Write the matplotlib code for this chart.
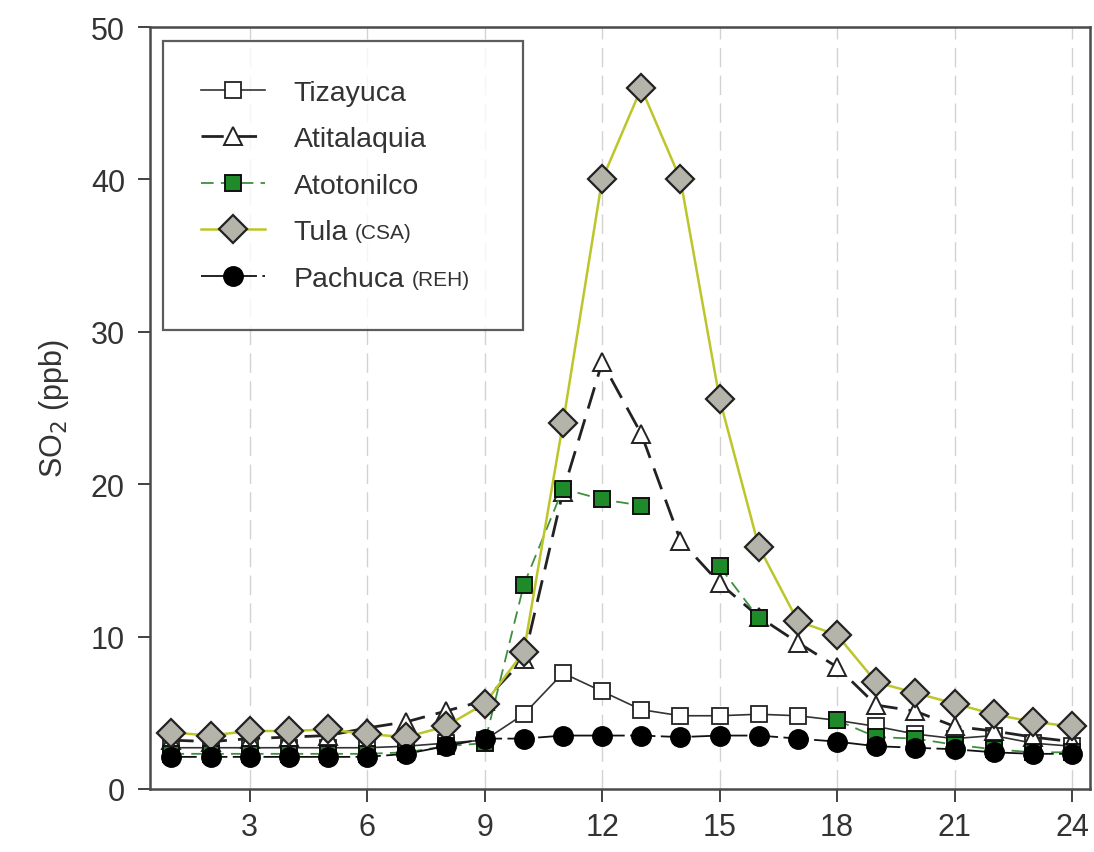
import numpy as np
import matplotlib
matplotlib.use("Agg")
import matplotlib.pyplot as plt

plt.rcParams['font.family'] = ['Liberation Sans', 'DejaVu Sans']

hours = list(range(1, 25))
nan = np.nan
tizayuca = [2.7, 2.7, 2.7, 2.7, 2.7, 2.7, 2.8, 3.0, 3.2, 4.9, 7.6, 6.4,
            5.2, 4.8, 4.8, 4.9, 4.8, 4.5, 4.1, 3.6, 3.3, 3.5, 3.0, 2.8]
atitalaquia = [3.2, 3.1, 3.3, 3.4, 3.5, 4.0, 4.4, 5.1, 5.8, 8.5, 19.5, 28.0,
               23.3, 16.3, 13.5, 11.3, 9.6, 8.0, 5.5, 5.1, 4.1, 3.8, 3.4, 3.1]
atotonilco = [2.3, 2.3, 2.3, 2.3, 2.3, 2.3, 2.4, 2.8, 3.0, 13.4, 19.7, 19.0,
              18.6, nan, 14.6, 11.2, nan, 4.5, 3.4, 3.3, 2.9, 2.6, 2.4, 2.4]
tula = [3.7, 3.5, 3.8, 3.8, 3.9, 3.6, 3.4, 4.1, 5.6, 9.0, 24.0, 40.0,
        46.0, 40.0, 25.6, 15.9, 11.0, 10.1, 7.0, 6.3, 5.6, 4.9, 4.4, 4.1]
pachuca = [2.1, 2.1, 2.1, 2.1, 2.1, 2.1, 2.3, 2.8, 3.3, 3.3, 3.5, 3.5,
           3.5, 3.4, 3.5, 3.5, 3.3, 3.1, 2.8, 2.7, 2.6, 2.4, 2.3, 2.3]

labels = ["Tizayuca", "Atitalaquia", "Atotonilco", "Tula", "Pachuca"]
label_suffix = {"Tula": "(CSA)", "Pachuca": "(REH)"}
xticks = [3, 6, 9, 12, 15, 18, 21, 24]
yticks = [0, 10, 20, 30, 40, 50]

fig = plt.figure(figsize=(10.94, 8.53), dpi=100)
ax = fig.add_axes([0.137, 0.074, 0.859, 0.893])

for xv in xticks:
    ax.axvline(xv, color='#d2d2d2', lw=1.0, ls=(0, (14, 6)), zorder=0)

ax.plot(hours, tizayuca, color='#333333', lw=1.2, marker='s', ms=11,
        mfc='white', mec='#222222', mew=1.3, label=labels[0], zorder=2)
ax.plot(hours, atitalaquia, color='#222222', lw=2.0, ls=(0, (8, 4)),
        marker='^', ms=13, mfc='white', mec='#222222', mew=1.4,
        label=labels[1], zorder=3)
ax.plot(hours, atotonilco, color='#3f8f3f', lw=1.3, ls=(0, (7, 4)),
        marker='s', ms=11.5, mfc='#1f8a2a', mec='#111111', mew=1.4,
        label=labels[2], zorder=4)
ax.plot(hours, tula, color='#bcc62a', lw=1.8, marker='D', ms=14,
        mfc='#b4b4aa', mec='#222222', mew=1.6, label=labels[3], zorder=5)
ax.plot(hours, pachuca, color='#111111', lw=1.3, ls=(0, (14, 3)),
        marker='o', ms=14, mfc='black', mec='black', label=labels[4],
        zorder=6)

ax.set_xlim(0.45, 24.45)
ax.set_ylim(0, 50)
ax.set_xticks(xticks)
ax.set_yticks(yticks)
ax.tick_params(axis='x', direction='out', length=9, width=1.3,
               labelsize=22, colors='#333333', pad=8)
ax.tick_params(axis='y', direction='out', length=9, width=1.3,
               labelsize=22, colors='#333333', pad=9)
for s in ax.spines.values():
    s.set_color('#4a4a4a')
    s.set_linewidth(1.8)
ax.set_ylabel("SO$_2$ (ppb)", fontsize=22, color='#333333', labelpad=14)

leg = ax.legend(loc='upper left', bbox_to_anchor=(0.0138, 0.5, 0.383, 0.4816),
                mode='expand', fontsize=20.5, frameon=True, fancybox=False,
                edgecolor='#333333', handlelength=2.25, borderpad=1.35,
                labelspacing=0.72, handletextpad=1.0, borderaxespad=0)
leg.get_frame().set_linewidth(1.6)
for t in leg.get_texts():
    t.set_color('#333333')

fig.canvas.draw()
renderer = fig.canvas.get_renderer()
for t in leg.get_texts():
    lab = t.get_text()
    if lab in label_suffix:
        bb = t.get_window_extent(renderer)
        x = (bb.x1 + 7) / fig.bbox.width
        y = (bb.y0 + 7) / fig.bbox.height
        fig.text(x, y, label_suffix[lab], fontsize=15, color='#333333',
                 ha='left', va='baseline')

fig.savefig("out.png", dpi=100, facecolor='white')
